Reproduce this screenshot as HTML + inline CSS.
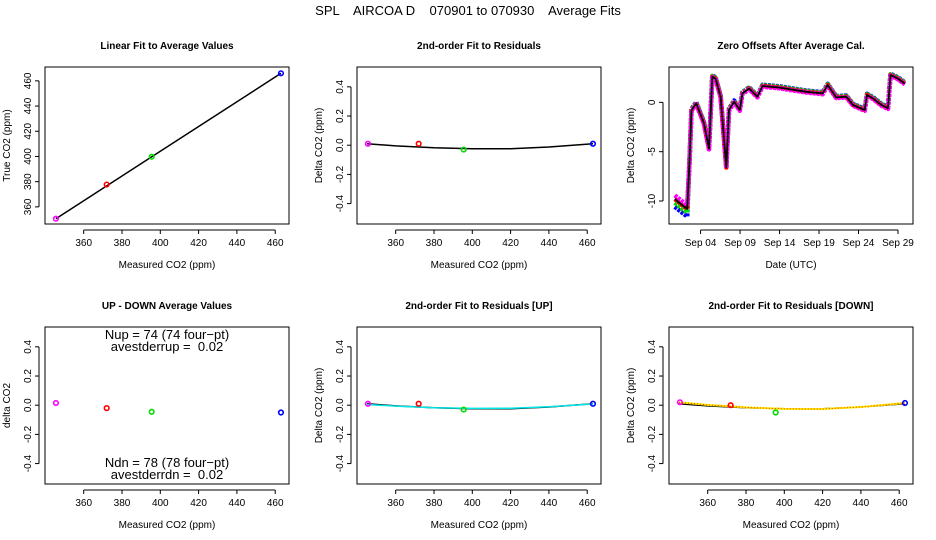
<!DOCTYPE html>
<html><head><meta charset="utf-8"><style>
body{margin:0;background:#fff}
svg{display:block;font-family:"Liberation Sans",sans-serif}
</style></head><body>
<svg id="chart" width="936" height="540" viewBox="0 0 936 540" xmlns="http://www.w3.org/2000/svg">
<text x="468" y="15" font-size="13" text-anchor="middle" style="white-space:pre">SPL    AIRCOA D    070901 to 070930    Average Fits</text>
</svg>
<script>
// ---- data ----
const calMeasured = [345.5, 372, 395.5, 463];
const calTrue = [350.6, 377.7, 399.8, 466];
const calColors = ["#ff00ff", "#ff0000", "#00dd00", "#0000ff"];
const residuals = [0.01, 0.01, -0.03, 0.01];
const residualsUp = [0.01, 0.01, -0.03, 0.01];
const residualsDown = [0.02, 0.0, -0.05, 0.015];
const upDown = [0.015, -0.02, -0.045, -0.05];
const fitX = [345, 360, 380, 400, 420, 440, 463];
const fitY = [0.01, -0.005, -0.018, -0.024, -0.024, -0.012, 0.01];
const fitUpY = [0.005, -0.006, -0.017, -0.022, -0.021, -0.01, 0.008];
const fitDownY = [0.02, 0.002, -0.015, -0.025, -0.026, -0.012, 0.015];
const tsDays = [0.73,1.5,2.3,2.6,2.85,3.44,4.42,5.06,5.48,5.9,6.54,7.26,7.6,8.24,8.96,9.3,10.15,11.2,11.84,13.96,17.36,19.47,20.1,21.17,22.45,23.3,24.78,25.07,25.83,26.9,27.74,28.05,29.0,29.86];
const tsValues = [-9.8,-10.3,-10.8,-6,-0.8,-0.1,-2.1,-4.7,2.6,2.4,0.57,-6.6,-0.78,0.06,-0.78,0.9,1.4,0.57,1.65,1.5,1.07,0.9,1.75,0.5,0.57,-0.27,-0.78,0.74,0.4,-0.27,-0.6,2.77,2.4,1.9];
const tsTickLabels = ["Sep 04","Sep 09","Sep 14","Sep 19","Sep 24","Sep 29"];
const tsTickDays = [4,9,14,19,24,29];
const co2Ticks = [360,380,400,420,440,460];
const resTicks = [-0.4,-0.2,0.0,0.2,0.4];

const NS="http://www.w3.org/2000/svg";
const svg=document.getElementById('chart');
function mk(tag,attrs,parent){const e=document.createElementNS(NS,tag);for(const k in attrs)e.setAttribute(k,attrs[k]);(parent||svg).appendChild(e);return e;}
function txt(s,attrs,parent){const e=mk('text',attrs,parent);e.textContent=s;return e;}

function panel(ox,oy,cfg){
  const L=ox+45,R=ox+289,T=oy+67,B=oy+224;
  const g=mk('g',{});
  
  
  const sx=v=>L+(v-cfg.x0)/(cfg.x1-cfg.x0)*(R-L);
  const sy=v=>B-(v-cfg.y0)/(cfg.y1-cfg.y0)*(B-T);
  const t=txt(cfg.title,{x:(L+R)/2,y:oy+49,'font-size':10,'font-weight':'bold','text-anchor':'middle'},g);
  
  
  const box=mk('rect',{x:L,y:T,width:R-L,height:B-T,fill:'none',stroke:'#000','stroke-width':1},g);
  
  
  const xt=cfg.xTicks, xl=cfg.xLabels||cfg.xTicks;
  mk('line',{x1:sx(xt[0]),x2:sx(xt[xt.length-1]),y1:B+6,y2:B+6,stroke:'#000'},g);
  xt.forEach((v,i)=>{mk('line',{x1:sx(v),x2:sx(v),y1:B+6,y2:B+10,stroke:'#000'},g);
    const l=txt(String(xl[i]),{x:sx(v),y:B+22,'font-size':10,'text-anchor':'middle'},g);
    
    });
  const yt=cfg.yTicks;
  mk('line',{x1:L-6,x2:L-6,y1:sy(yt[0]),y2:sy(yt[yt.length-1]),stroke:'#000'},g);
  yt.forEach(v=>{mk('line',{x1:L-10,x2:L-6,y1:sy(v),y2:sy(v),stroke:'#000'},g);
    const s=cfg.yFmt?cfg.yFmt(v):String(v);
    const l=txt(s,{x:L-14,y:sy(v),'font-size':10,'text-anchor':'middle',transform:`rotate(-90 ${L-14} ${sy(v)})`},g);
    
    });
  const xa=txt(cfg.xTitle,{x:(L+R)/2,y:oy+268,'font-size':10,'text-anchor':'middle'},g);
  
  
  const yx=ox+10,yy=(T+B)/2;
  const ya=txt(cfg.yTitle,{x:yx,y:yy,'font-size':10,'text-anchor':'middle',transform:`rotate(-90 ${yx} ${yy})`},g);
  
  
  return {g,sx,sy,L,R,T,B};
}
function line(p,xs,ys,color,w,dash,name){
  const d=xs.map((x,i)=>(i?'L':'M')+p.sx(x).toFixed(1)+' '+p.sy(ys[i]).toFixed(1)).join(' ');
  const e=mk('path',{d,fill:'none',stroke:color,'stroke-width':w,'stroke-linejoin':'round'},p.g);
  if(dash)e.setAttribute('stroke-dasharray',dash);
  
  
}
function pts(p,xs,ys,name){
  xs.forEach((x,i)=>{const c=mk('circle',{cx:p.sx(x),cy:p.sy(ys[i]),r:2.3,fill:'none',stroke:calColors[i],'stroke-width':1.6},p.g);
    
    });
}
const fmt=v=>v.toFixed(1);
const resCfg=(title,name)=>({name,title,x0:339.8,x1:467.2,y0:-0.54,y1:0.536,xTicks:co2Ticks,yTicks:resTicks,yFmt:fmt,xTitle:'Measured CO2 (ppm)',yTitle:'Delta CO2 (ppm)'});

// Panel 1
let p=panel(0,0,{name:'linear-fit-panel',title:'Linear Fit to Average Values',x0:339.8,x1:467.2,y0:346.4,y1:471,xTicks:co2Ticks,yTicks:co2Ticks,xTitle:'Measured CO2 (ppm)',yTitle:'True CO2 (ppm)'});
line(p,[calMeasured[0],calMeasured[3]],[calTrue[0],calTrue[3]],'#000',1.5,null,'linear-fit-line');
pts(p,calMeasured,calTrue,'calibration-point');

// Panel 2
p=panel(312,0,resCfg('2nd-order Fit to Residuals','residual-fit-panel'));
line(p,fitX,fitY,'#000',1.5,null,'quadratic-fit-line');
pts(p,calMeasured,residuals,'residual-point');

// Panel 3
p=panel(624,0,{name:'zero-offsets-panel',title:'Zero Offsets After Average Cal.',x0:0,x1:30.9,y0:-12.33,y1:3.58,xTicks:tsTickDays,xLabels:tsTickLabels,yTicks:[-10,-5,0],xTitle:'Date (UTC)',yTitle:'Delta CO2 (ppm)'});
[['#0000ff',0.5,-0.6],['#00dd00',0.3,-0.3],['#ff0000',0,0],['#ff00ff',-0.3,0.3]].forEach(([c,dy,lowShift])=>{
  line(p,tsDays,tsValues.map(v=>v+(v<-8?lowShift*1.5:0)+dy*0.25),c,4.5,'3 1','offset-series');
});
line(p,tsDays,tsValues,'#000',1.8,null,'offset-mean-line');

// Panel 4
p=panel(0,260,{name:'up-down-panel',title:'UP - DOWN Average Values',x0:339.8,x1:467.2,y0:-0.54,y1:0.536,xTicks:co2Ticks,yTicks:resTicks,yFmt:fmt,xTitle:'Measured CO2 (ppm)',yTitle:'delta CO2'});
pts(p,calMeasured,upDown,'up-down-point');
[['Nup = 74 (74 four\u2212pt)',339],['avestderrup =  0.02',351],['Ndn = 78 (78 four\u2212pt)',467],['avestderrdn =  0.02',479]].forEach(([s,y])=>{
  const e=txt(s,{x:167,y:y,'font-size':13,'text-anchor':'middle',style:'white-space:pre'},p.g);
  
  
});

// Panel 5
p=panel(312,260,resCfg('2nd-order Fit to Residuals [UP]','residual-up-panel'));
line(p,fitX,fitY,'#000',1.5,null,'quadratic-fit-line');
line(p,fitX,fitUpY,'#00e5e5',1.5,null,'up-fit-line');
pts(p,calMeasured,residualsUp,'residual-up-point');

// Panel 6
p=panel(624,260,resCfg('2nd-order Fit to Residuals [DOWN]','residual-down-panel'));
line(p,fitX,fitY,'#000',1.5,null,'quadratic-fit-line');
line(p,fitX,fitDownY,'#ffee00',2,null,'down-fit-line');
line(p,fitX,fitDownY,'#ff2200',1,'1 2','down-fit-dots');
pts(p,calMeasured,residualsDown,'residual-down-point');
</script>
</body></html>
